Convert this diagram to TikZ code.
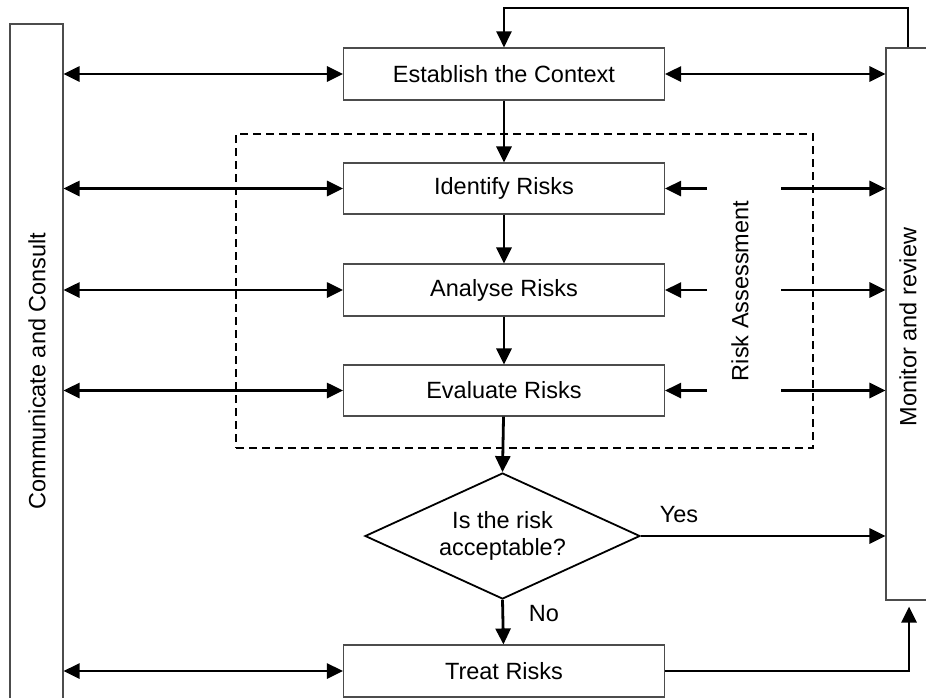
\documentclass[tikz,border=0pt]{standalone}
\usepackage{fontspec}
\setmainfont{Liberation Sans}
\usetikzlibrary{arrows.meta,shapes.geometric}

\tikzset{
  base/.style={font=\fontsize{23.5}{27}\selectfont, inner sep=0pt},
  stepbox/.style={base, draw=black!70, line width=1.1pt, fill=white,
                  minimum width=321pt, minimum height=51pt},
  sidebox/.style={draw=black!70, line width=1.1pt, inner sep=0pt},
  decision/.style={base, diamond, draw=black, line width=1.8pt, fill=white,
                   align=center, minimum width=275pt, minimum height=126pt, aspect=2.18},
  label/.style={base},
  tip/.style={Triangle[length=16pt,width=15pt]},
  flow/.style={line width=2.8pt, -{Triangle[length=16pt,width=15pt]}},
  twoway/.style={line width=2.8pt, {Triangle[length=16pt,width=15pt]}-{Triangle[length=16pt,width=15pt]}},
  feedback/.style={line width=2.2pt, -{Triangle[length=16pt,width=15pt]}},
  stage/.style={draw=black, line width=1.7pt, dash pattern=on 8pt off 5pt, inner sep=0pt}
}

\begin{document}
\begin{tikzpicture}[x=1pt,y=-1pt]
  \useasboundingbox (0,0) rectangle (926,697);

  % side columns
  \node[sidebox, minimum width=53pt, minimum height=676pt] (comm) at (36.5,362) {};
  \node[label, rotate=90] (commtext) at (37,371) {Communicate and Consult};
  \node[sidebox, minimum width=49pt, minimum height=552pt] (mon) at (910.5,324) {};
  \node[label, rotate=90] (montext) at (908,327) {Monitor and review};

  % risk assessment stage
  \node[stage, minimum width=577pt, minimum height=314pt] (ra) at (524.5,291) {};
  \node[label, rotate=90] (ratext) at (740,291) {Risk Assessment};

  % process steps
  \node[stepbox, minimum height=52pt] (est) at (504,74) {Establish the Context};
  \node[stepbox] (idf) at (504,188.5) {Identify Risks};
  \node[stepbox, minimum height=52pt] (ana) at (504,290) {Analyse Risks};
  \node[stepbox] (eva) at (504,390.5) {Evaluate Risks};
  \node[decision] (dec) at (502.5,536) {Is the risk\\acceptable?};
  \node[stepbox, minimum height=52pt] (treat) at (504,671) {Treat Risks};

  \node[label] (yes) at (679,515) {Yes};
  \node[label] (no) at (544,614) {No};

  % main flow
  \draw[flow] (est) -- (idf);
  \draw[flow] (idf) -- (ana);
  \draw[flow] (ana) -- (eva);
  \draw[flow] (eva) -- (dec.north);
  \draw[flow] (dec.south) -- (treat);
  \draw[flow] (dec.east) -- (dec.east -| mon.west);

  % communication with every step
  \foreach \n in {est,idf,ana,eva,treat}
    \draw[twoway] (comm.east |- \n.west) -- (\n.west);
  \draw[twoway] (est.east) -- (est.east -| mon.west);

  % monitoring links beside the assessment steps
  \foreach \n in {idf,ana,eva}{
    \coordinate (\n-in) at (707,0 |- \n.east);
    \coordinate (\n-out) at (781,0 |- \n.east);
    \draw[flow] (\n-in) -- (\n.east);
    \draw[flow] (\n-out) -- (\n-out -| mon.west);
  }

  % treatment reported to monitoring
  \coordinate (turn) at (909,0 |- treat.east);
  \draw[flow, shorten >=6pt] (treat.east) -- (turn) -- (turn |- mon.south);

  % review loop back to the context
  \coordinate (fb) at (908,0 |- mon.north);
  \draw[feedback] (fb) -- (908,8) -| (est.north);
\end{tikzpicture}
\end{document}
